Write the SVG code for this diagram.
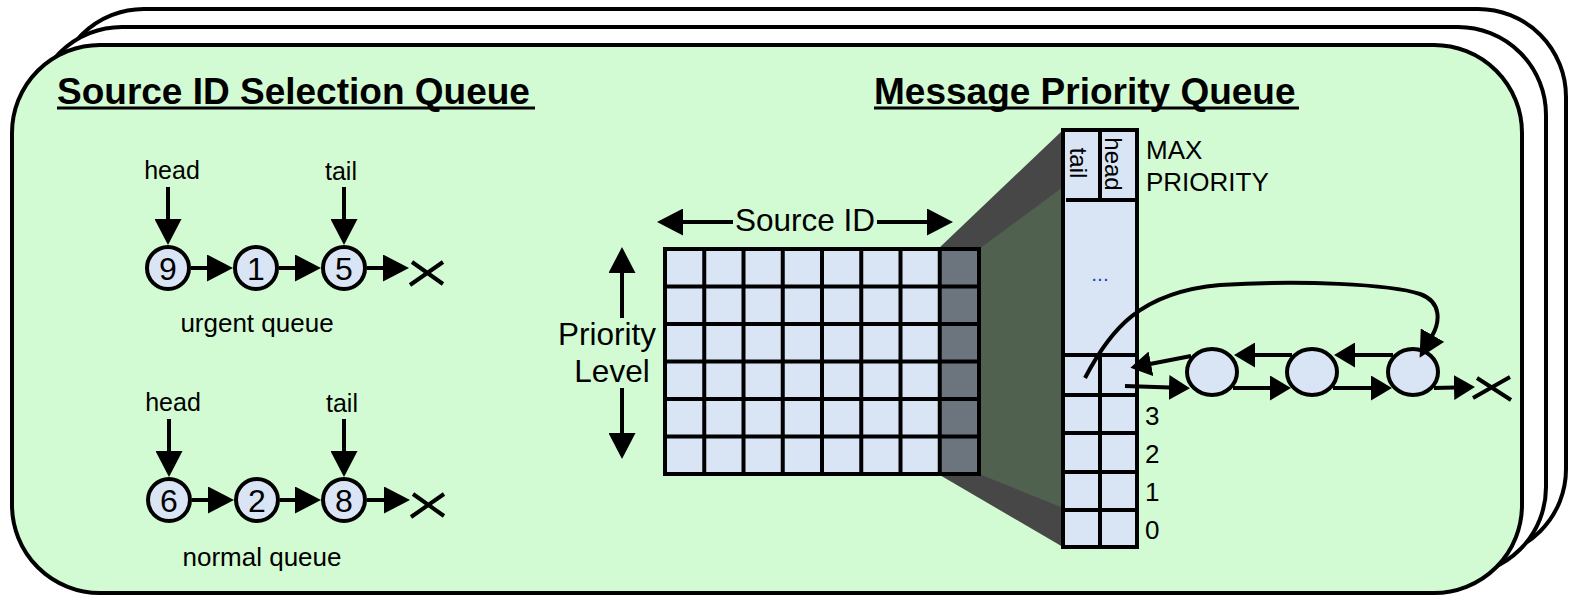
<svg xmlns="http://www.w3.org/2000/svg" width="1574" height="595" viewBox="0 0 1574 595">
  <style>
    .card { stroke: #000; stroke-width: 4; }
    .txt { font-family: "Liberation Sans", Arial, sans-serif; fill: #000; }
    .title { font-family: "Liberation Sans", Arial, sans-serif; font-weight: bold; font-size: 37px; fill: #000; }
    .lbl { font-size: 25px; }
    .num { font-size: 32px; text-anchor: middle; }
    .side { font-size: 26px; }
    .axis { font-size: 31.5px; text-anchor: middle; }
    .mid { text-anchor: middle; }
    .node { fill: #d9e5f5; stroke: #000; stroke-width: 4; }
    .cell { fill: #d9e5f5; }
    .grid { fill: none; stroke: #000; stroke-width: 4; stroke-linecap: square; }
    .ln { fill: none; stroke: #000; stroke-width: 4; }
    .big { marker-end: url(#headBig); }
    .small { marker-end: url(#headSmall); }
  </style>
  <defs>
    <marker id="headBig" markerUnits="userSpaceOnUse" markerWidth="26" markerHeight="27" refX="1" refY="13.5" orient="auto">
      <path d="M0,0 L26,13.5 L0,27 z" fill="#000"/>
    </marker>
    <marker id="headSmall" markerUnits="userSpaceOnUse" markerWidth="21" markerHeight="25" refX="1" refY="12.5" orient="auto">
      <path d="M0,0 L21,12.5 L0,25 z" fill="#000"/>
    </marker>
  </defs>

  <!-- stacked cards -->
  <g id="cards">
    <rect class="card" x="56" y="9" width="1510" height="548" rx="88" fill="#fff"/>
    <rect class="card" x="34" y="27" width="1512" height="548" rx="88" fill="#fff"/>
    <rect class="card" x="12" y="45" width="1510" height="548" rx="88" fill="#d3fbd3"/>
  </g>

  <!-- section headings -->
  <g id="heading-left">
    <text class="title" x="57" y="104">Source ID Selection Queue</text>
    <line x1="57" y1="108" x2="535" y2="108" stroke="#000" stroke-width="3"/>
  </g>
  <g id="heading-right">
    <text class="title" x="874" y="104">Message Priority Queue</text>
    <line x1="874" y1="108" x2="1299" y2="108" stroke="#000" stroke-width="3"/>
  </g>

  <!-- urgent queue -->
  <g id="urgent-queue">
    <text class="txt lbl mid" x="172" y="179">head</text>
    <text class="txt lbl mid" x="341" y="180">tail</text>
    <text class="txt mid" style="font-size:26px" x="257" y="332">urgent queue</text>
    <g class="ln">
      <line class="big" x1="168" y1="187" x2="168" y2="220"/>
      <line class="big" x1="344" y1="187" x2="344" y2="220"/>
      <line class="big" x1="191" y1="268" x2="208" y2="268"/>
      <line class="big" x1="279" y1="268" x2="296" y2="268"/>
      <line class="big" x1="367" y1="268" x2="384" y2="268"/>
      <path d="M410,285 L443,262 M412,262 L443,284"/>
    </g>
    <circle class="node" cx="168" cy="268" r="21"/>
    <circle class="node" cx="256" cy="268" r="21"/>
    <circle class="node" cx="344" cy="268" r="21"/>
    <text class="txt num" x="168" y="280">9</text>
    <text class="txt num" x="256" y="280">1</text>
    <text class="txt num" x="344" y="280">5</text>
  </g>

  <!-- normal queue -->
  <g id="normal-queue">
    <text class="txt lbl mid" x="173" y="411">head</text>
    <text class="txt lbl mid" x="342" y="412">tail</text>
    <text class="txt mid" style="font-size:26px" x="262" y="566">normal queue</text>
    <g class="ln">
      <line class="big" x1="169" y1="419" x2="169" y2="452"/>
      <line class="big" x1="344" y1="419" x2="344" y2="452"/>
      <line class="big" x1="192" y1="500" x2="209" y2="500"/>
      <line class="big" x1="280" y1="500" x2="296" y2="500"/>
      <line class="big" x1="367" y1="500" x2="385" y2="500"/>
      <path d="M411,517 L444,494 M413,494 L444,516"/>
    </g>
    <circle class="node" cx="169" cy="500" r="21"/>
    <circle class="node" cx="257" cy="500" r="21"/>
    <circle class="node" cx="344" cy="500" r="21"/>
    <text class="txt num" x="169" y="512">6</text>
    <text class="txt num" x="257" y="512">2</text>
    <text class="txt num" x="344" y="512">8</text>
  </g>

  <!-- projection frame between the matrix and the priority column -->
  <g id="frame">
    <polygon points="938,249 1063,130 1063,547 938,474" fill="#474747"/>
    <polygon points="979,249 1063,187 1063,508 979,474" fill="#506150"/>
  </g>

  <!-- source / priority matrix -->
  <g id="matrix">
    <rect class="cell" x="665" y="249" width="275" height="225"/>
    <rect x="940" y="249" width="39" height="225" fill="#6c757d"/>
    <path class="grid" d="M665,249 V474 M704.25,249 V474 M743.5,249 V474 M782.75,249 V474 M822,249 V474 M861.25,249 V474 M900.5,249 V474 M939.75,249 V474 M979,249 V474
      M665,249 H979 M665,286.5 H979 M665,324 H979 M665,361.5 H979 M665,399 H979 M665,436.5 H979 M665,474 H979"/>
  </g>

  <!-- matrix axis labels -->
  <g id="axis-source">
    <text class="txt axis" x="805" y="231">Source ID</text>
    <g class="ln">
      <line class="big" x1="733" y1="222" x2="682" y2="222"/>
      <line class="big" x1="877" y1="222" x2="928" y2="222"/>
    </g>
  </g>
  <g id="axis-priority">
    <text class="txt axis" x="607" y="345">Priority</text>
    <text class="txt axis" x="612" y="382">Level</text>
    <g class="ln">
      <line class="big" x1="622" y1="318" x2="622" y2="272"/>
      <line class="big" x1="622" y1="388" x2="622" y2="434"/>
    </g>
  </g>

  <!-- priority column -->
  <g id="priority-column">
    <rect class="cell" x="1063" y="130" width="74" height="417"/>
    <path class="grid" d="M1063,130 H1137 V547 H1063 Z M1066,200 H1137 M1100,130 V200 M1063,355 H1137 M1063,395 H1137 M1063,433 H1137 M1063,472 H1137 M1063,510 H1137 M1100,355 V547" style="stroke-linecap:butt"/>
    <text class="txt mid" style="font-size:24px" transform="translate(1078,163) rotate(90)" y="8">tail</text>
    <text class="txt mid" style="font-size:24px" transform="translate(1113,164) rotate(90)" y="8">head</text>
    <text class="mid" x="1100" y="281" style="font-family:'Liberation Sans', Arial, sans-serif; font-size:21px; fill:#1f3fc4">...</text>
    <text class="txt side" x="1146" y="159">MAX</text>
    <text class="txt side" x="1146" y="191">PRIORITY</text>
    <text class="txt side" x="1145" y="425">3</text>
    <text class="txt side" x="1145" y="463">2</text>
    <text class="txt side" x="1145" y="501">1</text>
    <text class="txt side" x="1145" y="539">0</text>
  </g>

  <!-- message list nodes -->
  <g id="msg-1"><ellipse class="node" cx="1212" cy="372" rx="25" ry="23"/></g>
  <g id="msg-2"><ellipse class="node" cx="1312" cy="372" rx="25" ry="23"/></g>
  <g id="msg-3"><ellipse class="node" cx="1413" cy="372" rx="25" ry="23"/></g>

  <!-- message list links -->
  <g id="links" class="ln">
    <line class="small" x1="1393" y1="355" x2="1354" y2="355"/>
    <line class="small" x1="1292" y1="355" x2="1254" y2="355"/>
    <line class="small" x1="1191" y1="356" x2="1150" y2="364"/>
    <line class="small" x1="1125" y1="386" x2="1170" y2="387.5"/>
    <line class="small" x1="1233" y1="388" x2="1271" y2="388"/>
    <line class="small" x1="1333" y1="388" x2="1372" y2="388"/>
    <line class="small" x1="1434" y1="388" x2="1455" y2="387.5"/>
    <path d="M1473,398 L1510,377 M1477,378 L1511,400"/>
    <path class="big" d="M1085,378 C1110,330 1140,292 1220,285 C1300,280 1390,284 1420,294 C1442,302 1440,322 1432,336"/>
  </g>
</svg>
